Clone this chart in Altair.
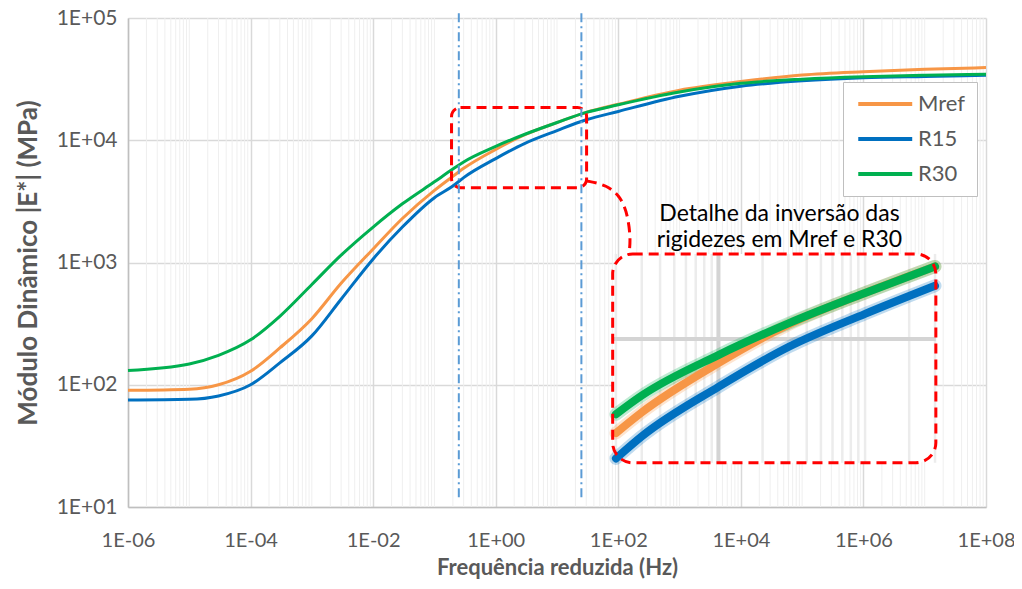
import altair as alt
import pandas as pd
import numpy as np

# ---------------- data ----------------
freq = [1e-6, 1e-5, 3e-5, 1e-4, 3e-4, 1e-3, 3e-3, 1e-2, 3e-2, 1e-1, 2e-1, 3e-1,
        1, 3, 10, 30, 100, 1e3, 1e4, 1e5, 1e6, 1e7, 1e8]
mref = [90, 92, 100, 129, 200, 347, 676, 1290, 2290, 3890, 5070, 5890,
        8410, 11100, 13960, 16900, 19700, 25700, 30200, 34200, 36400, 38000, 39300]
r15 = [75, 76, 81, 100, 151, 251, 501, 1070, 1950, 3390, 4220, 4950,
       7080, 9440, 12000, 14700, 17200, 22900, 27700, 30700, 32500, 33300, 34000]
r30 = [131, 148, 174, 233, 363, 661, 1148, 1950, 3020, 4570, 5810, 6650,
       8910, 11200, 13960, 16900, 19500, 24800, 29200, 31600, 33100, 34000, 34700]
series = ["Mref", "R15", "R30"]
colors = ["#F79646", "#0070C0", "#00B050"]

x_ticks = [1e-6, 1e-4, 1e-2, 1, 1e2, 1e4, 1e6, 1e8]
y_ticks = [10, 100, 1e3, 1e4, 1e5]
marker_freqs = [0.25, 25]          # vertical dash-dot lines
marker_span = [12, 1.12e5]

# zoom window (red box) and inset box, in data units
zoom_box = [0.19, 30.4, 4090, 18500]      # x0, x1, y0, y1
inset_box = [81, 1.52e7, 23, 1175]
# callout connector anchors (data units)
callout_x = [30.7, 65, 110, 143, 160, 148]
callout_y = [4645, 4313, 3436, 2449, 1531, 1132]
note_text = "Detalhe da inversão das\nrigidezes em Mref e R30"
note_pos = [42700, 2470]

X_TITLE = "Frequência reduzida (Hz)"
Y_TITLE = "Módulo Dinâmico |E*| (MPa)"

# ---------------- frames ----------------
rows = []
for s, vals in zip(series, [mref, r15, r30]):
    for f, v in zip(freq, vals):
        rows.append({"f": f, "v": v, "s": s})
df = pd.DataFrame(rows)

minor = []
for k in range(-6, 8):
    for m in range(1, 10):
        if m == 1 and k % 2 == 0:
            continue
        minor.append(m * 10.0 ** k)
minor_df = pd.DataFrame({"g": minor})

xs = alt.Scale(type="log", domain=[1e-6, 1e8], nice=False)
ys = alt.Scale(type="log", domain=[10, 1e5], nice=False)
cs = alt.Scale(domain=series, range=colors)

label_expr = ("'1E' + (round(log(datum.value)/LN10) < 0 ? '-' : '+') + "
              "(abs(round(log(datum.value)/LN10)) < 10 ? '0' : '') + abs(round(log(datum.value)/LN10))")
FONT = "Lato"
GRAY = "#595959"

AX = alt.Axis(values=x_ticks, labelExpr=label_expr, grid=True, gridColor="#d9d9d9",
              gridWidth=1.5, ticks=False, tickSize=0, labelPadding=23,
              labelFlush=False, labelOverlap=False, labelFont=FONT, labelFontSize=20,
              labelColor=GRAY, domainColor="#bfbfbf", domainWidth=1.5,
              titleFont=FONT, titleFontSize=22, titleFontWeight="bold",
              titleColor=GRAY, titleY=60, titleBaseline="middle")
AY = alt.Axis(values=y_ticks, labelExpr=label_expr, grid=True, gridColor="#d9d9d9",
              gridWidth=1.5, ticks=False, tickSize=0, labelPadding=11,
              labelOverlap=False, labelFont=FONT, labelFontSize=21,
              labelColor=GRAY, domainColor="#bfbfbf", domainWidth=1.5,
              titleFont=FONT, titleFontSize=26, titleFontWeight="bold",
              titleColor=GRAY, titleX=-100, titleBaseline="middle")


def X(field):
    return alt.X(field, scale=xs, axis=AX, title=X_TITLE)


def Y(field):
    return alt.Y(field, scale=ys, axis=AY, title=Y_TITLE)


# inset mapping expressions
wx0, wx1 = np.log10(zoom_box[0]), np.log10(zoom_box[1])
wy0, wy1 = np.log10(zoom_box[2]), np.log10(zoom_box[3])
ix0, ix1 = np.log10(inset_box[0]), np.log10(inset_box[1])
iy0, iy1 = np.log10(inset_box[2]), np.log10(inset_box[3])
kx = (ix1 - ix0) / (wx1 - wx0)
ky = (iy1 - iy0) / (wy1 - wy0)


def mapx(field):
    return f"pow(10, {ix0} + (log(datum.{field})/LN10 - ({wx0})) * {kx})"


def mapy(field):
    return f"pow(10, {iy0} + (log(datum.{field})/LN10 - ({wy0})) * {ky})"


# ---------------- layers ----------------
minor_grid = alt.Chart(minor_df).mark_rule(color="#efefef", strokeWidth=1).encode(x=X("g:Q"))

main = alt.Chart(df).mark_line(strokeWidth=3, interpolate="monotone").encode(
    x=X("f:Q"), y=Y("v:Q"),
    color=alt.Color("s:N", scale=cs, sort=series,
                    legend=alt.Legend(title=None, orient="none", legendX=715, legendY=64,
                                      symbolType="M-1,0L7,0", symbolSize=182,
                                      symbolStrokeWidth=4, labelFont=FONT, labelFontSize=22,
                                      labelColor=GRAY, labelOffset=42, rowPadding=13,
                                      padding=11, strokeColor="#bfbfbf", fillColor="white")),
)

box_df = pd.DataFrame({"x0": [zoom_box[0]], "x1": [zoom_box[1]],
                       "y0": [zoom_box[2]], "y1": [zoom_box[3]]})
red_box = alt.Chart(box_df).mark_rect(fill="transparent", stroke="#FF0000", strokeWidth=3,
                                      strokeDash=[10, 6], cornerRadius=9).encode(
    x=X("x0:Q"), x2="x1:Q", y=Y("y0:Q"), y2="y1:Q")

call_df = pd.DataFrame({"x": callout_x, "y": callout_y, "i": range(len(callout_x))})
callout = alt.Chart(call_df).mark_line(color="#FF0000", strokeWidth=3, strokeDash=[10, 6],
                                       interpolate="basis").encode(
    x=X("x:Q"), y=Y("y:Q"), order="i:Q")

mk_df = pd.DataFrame({"f": marker_freqs, "y0": marker_span[0], "y1": marker_span[1]})
markers = alt.Chart(mk_df).mark_rule(color="#5B9BD5", strokeWidth=2,
                                     strokeDash=[9, 4, 2, 4]).encode(
    x=X("f:Q"), y=Y("y0:Q"), y2="y1:Q")

ib_df = pd.DataFrame({"x0": [inset_box[0]], "x1": [inset_box[1]],
                      "y0": [inset_box[2]], "y1": [inset_box[3]]})
inset_bg = alt.Chart(ib_df).mark_rect(fill="white", cornerRadius=20).encode(
    x=X("x0:Q"), x2="x1:Q", y=Y("y0:Q"), y2="y1:Q")
inset_border = alt.Chart(ib_df).mark_rect(fill="transparent", stroke="#FF0000", strokeWidth=3,
                                          strokeDash=[10, 6], cornerRadius=20).encode(
    x=X("x0:Q"), x2="x1:Q", y=Y("y0:Q"), y2="y1:Q")

# inset grid lines (mapped from the zoom window)
ig = [g for g in minor + x_ticks if zoom_box[0] <= g <= zoom_box[1]]
ig_df = pd.DataFrame({"g": ig, "major": [g in x_ticks for g in ig],
                      "y0": inset_box[2], "y1": inset_box[3]})
inset_vgrid = alt.Chart(ig_df).transform_calculate(gx=mapx("g")).mark_rule().encode(
    x=X("gx:Q"), y=Y("y0:Q"), y2="y1:Q",
    color=alt.condition("datum.major", alt.value("#d4d4d4"), alt.value("#ececec")),
    strokeWidth=alt.condition("datum.major", alt.value(4), alt.value(2.5)))
ih_df = pd.DataFrame({"g": [yv for yv in y_ticks if zoom_box[2] <= yv <= zoom_box[3]],
                      "x0": inset_box[0], "x1": inset_box[1]})
inset_hgrid = alt.Chart(ih_df).transform_calculate(gy=mapy("g")).mark_rule(
    color="#d4d4d4", strokeWidth=4).encode(y=Y("gy:Q"), x=X("x0:Q"), x2="x1:Q")

inset_base = alt.Chart(df).transform_filter(
    f"datum.f >= {zoom_box[0]} && datum.f <= {zoom_box[1]}").transform_calculate(
    ix=mapx("f"), iy=mapy("v"))
inset_enc = dict(x=X("ix:Q"), y=Y("iy:Q"),
                 color=alt.Color("s:N", scale=cs, sort=series, legend=None))
inset_halo = inset_base.mark_line(strokeWidth=13, opacity=0.25, interpolate="monotone",
                                  strokeCap="round").encode(**inset_enc)
inset_lines = inset_base.mark_line(strokeWidth=8, interpolate="monotone",
                                   strokeCap="round").encode(**inset_enc)

note_df = pd.DataFrame({"x": [note_pos[0]], "y": [note_pos[1]], "t": [note_text]})
note = alt.Chart(note_df).mark_text(font=FONT, fontSize=23, lineBreak="\n", align="center",
                                    baseline="middle", lineHeight=26, color="black").encode(
    x=X("x:Q"), y=Y("y:Q"), text="t:N")

chart = alt.layer(
    minor_grid, main, red_box, callout, markers,
    inset_bg, inset_vgrid, inset_hgrid, inset_halo, inset_lines, inset_border, note
).properties(
    width=858, height=489,
    autosize=alt.AutoSizeParams(type="none"),
    padding={"left": 120, "top": 10, "right": 28, "bottom": 72},
).configure_view(stroke=None)

chart.save("out.html", embed_options={"renderer": "svg", "actions": False})
